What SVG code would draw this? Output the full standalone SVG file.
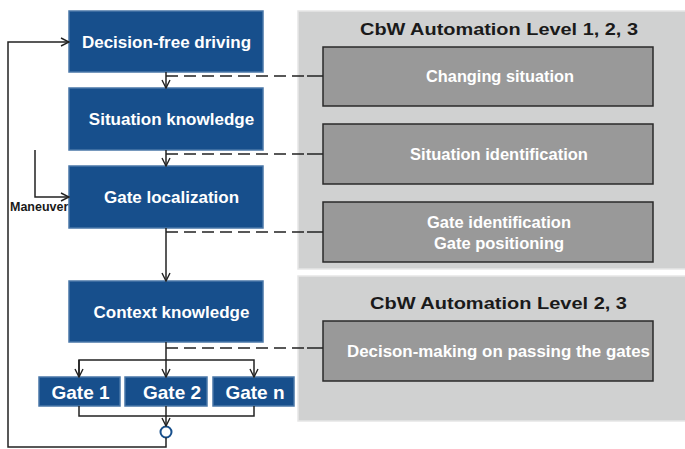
<svg xmlns="http://www.w3.org/2000/svg" width="685" height="449" viewBox="0 0 685 449">
<defs>
<marker id="arr" viewBox="0 0 10 10" refX="9" refY="5" markerWidth="10" markerHeight="10" markerUnits="userSpaceOnUse" orient="auto">
<path d="M1,1 L9,5 L1,9" fill="none" stroke="#222" stroke-width="1.4"/>
</marker>
<style>
.blue{fill:#174f8c;stroke:#4a77a8;stroke-width:1.5}
.bt{font-family:"Liberation Sans",Arial,sans-serif;font-weight:bold;fill:#fff;font-size:17px;text-anchor:middle}
.gt{font-size:19px}
.panel{fill:#d0d1d1;stroke:#e6e6e6;stroke-width:1.5}
.inner{fill:#999;stroke:#2a2a2a;stroke-width:1.5}
.it{font-family:"Liberation Sans",Arial,sans-serif;font-weight:bold;fill:#fff;font-size:16.5px;text-anchor:middle}
.title{font-family:"Liberation Sans",Arial,sans-serif;font-weight:bold;fill:#1a1a1a;font-size:17px;text-anchor:middle}
.ln{fill:none;stroke:#222;stroke-width:1.5}
.dash{fill:none;stroke:#222;stroke-width:1.5;stroke-dasharray:12 6}
</style>
</defs>
<g id="panel1"><rect class="panel" x="298" y="11" width="392" height="258"/>
<text class="title" x="499" y="35" textLength="278" lengthAdjust="spacingAndGlyphs">CbW Automation Level 1, 2, 3</text></g>
<g id="panel2"><rect class="panel" x="298" y="276" width="392" height="145"/>
<text class="title" x="498.5" y="309" textLength="257" lengthAdjust="spacingAndGlyphs">CbW Automation Level 2, 3</text></g>
<g id="changing"><rect class="inner" x="323" y="47" width="330" height="59"/><text class="it" x="500" y="82" textLength="148" lengthAdjust="spacingAndGlyphs">Changing situation</text></g>
<g id="sitid"><rect class="inner" x="323" y="124" width="330" height="60"/><text class="it" x="499" y="160">Situation identification</text></g>
<g id="gateid"><rect class="inner" x="323" y="202" width="330" height="60"/><text class="it" x="499" y="228">Gate identification</text><text class="it" x="499" y="249">Gate positioning</text></g>
<g id="decmake"><rect class="inner" x="323" y="321" width="330" height="60"/><text class="it" x="498.5" y="357" textLength="303" lengthAdjust="spacingAndGlyphs">Decison-making on passing the gates</text></g>
<g id="n1"><rect class="blue" x="69" y="11" width="194" height="61"/><text class="bt" x="166.5" y="48">Decision-free driving</text></g>
<g id="n2"><rect class="blue" x="69" y="88" width="194" height="62"/><text class="bt" x="171.5" y="125">Situation knowledge</text></g>
<g id="n3"><rect class="blue" x="69" y="166" width="194" height="62"/><text class="bt" x="171.5" y="203">Gate localization</text></g>
<g id="n4"><rect class="blue" x="69" y="281" width="194" height="61"/><text class="bt" x="171.5" y="318">Context knowledge</text></g>
<g id="g1"><rect class="blue" x="39" y="377" width="81" height="29"/><text class="bt gt" x="80.5" y="399">Gate 1</text></g>
<g id="g2"><rect class="blue" x="125" y="377" width="82" height="29"/><text class="bt gt" x="172" y="399">Gate 2</text></g>
<g id="gn"><rect class="blue" x="213" y="377" width="81" height="29"/><text class="bt gt" x="255" y="399">Gate n</text></g>
<g id="junction"><circle cx="166" cy="432" r="5.5" fill="#fff" stroke="#174f8c" stroke-width="2"/></g>
<g id="connectors">
<path class="ln" d="M166,72 V88" marker-end="url(#arr)"/>
<path class="ln" d="M166,150 V166" marker-end="url(#arr)"/>
<path class="ln" d="M166,228 V281" marker-end="url(#arr)"/>
<path class="ln" d="M166,342 V360"/>
<path class="ln" d="M79,377 V360 H254 V377" marker-end="url(#arr)"/>
<path class="ln" d="M79,360 V377" marker-end="url(#arr)"/>
<path class="ln" d="M166,360 V377" marker-end="url(#arr)"/>
<path class="ln" d="M79,406 V416 H254 V406"/>
<path class="ln" d="M166,406 V426" marker-end="url(#arr)"/>
<path class="ln" d="M166,437.5 V447 H8 V42 H69" marker-end="url(#arr)"/>
<path class="ln" d="M35,150 V197 H69" marker-end="url(#arr)"/>
<text x="10" y="211" font-family="'Liberation Sans',Arial,sans-serif" font-weight="bold" font-size="12.5" fill="#1a1a1a">Maneuver</text>
<path class="dash" d="M166,76 H310"/><path class="ln" d="M307,76 H323"/>
<path class="dash" d="M166,154 H310"/><path class="ln" d="M307,154 H323"/>
<path class="dash" d="M166,232 H310"/><path class="ln" d="M307,232 H323"/>
<path class="dash" d="M166,348 H310"/><path class="ln" d="M307,348 H323"/>
</g>
</svg>
